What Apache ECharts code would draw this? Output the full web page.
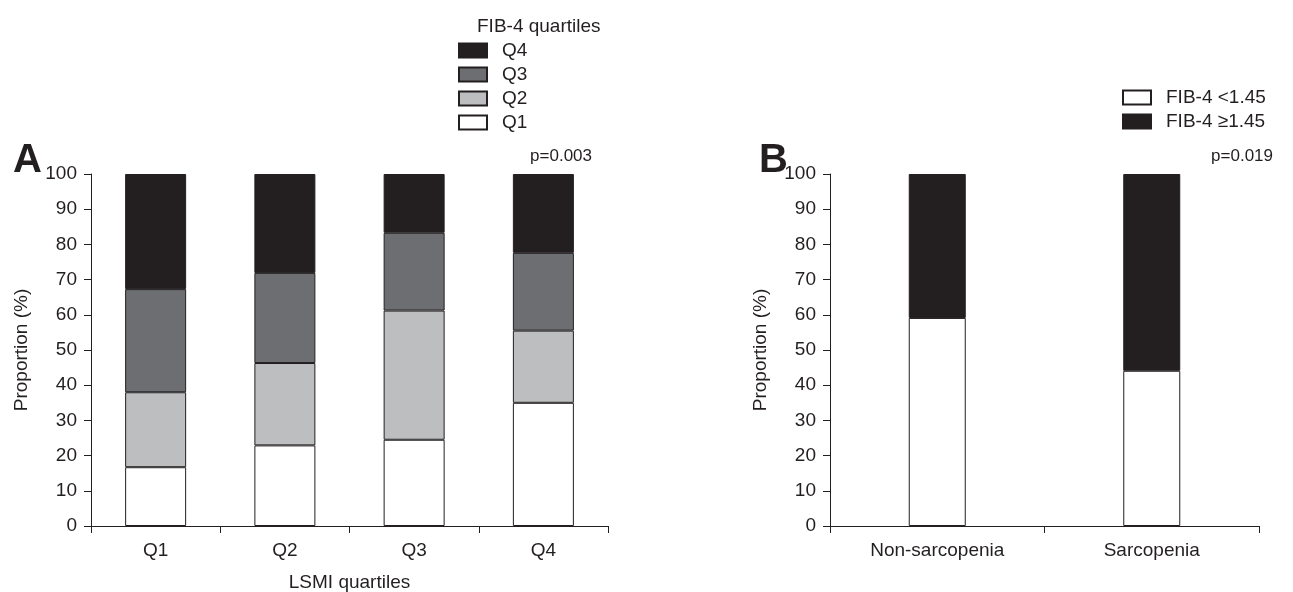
<!DOCTYPE html>
<html>
<head>
<meta charset="utf-8">
<script src="https://cdn.jsdelivr.net/npm/echarts@6/dist/echarts.min.js"></script>
<style>
html,body{margin:0;padding:0;background:#fff;}
#chart{width:1293px;height:592px;}
</style>
</head>
<body>
<div id="chart"></div>
<script>
// Panel A data: FIB-4 quartile distribution within LSMI quartiles (%)
const lsmiCategories = ['Q1', 'Q2', 'Q3', 'Q4'];
const fibQ1 = [16.7, 22.9, 24.5, 35.0];
const fibQ2 = [21.3, 23.4, 36.7, 20.5];
const fibQ3 = [29.3, 25.6, 22.1, 22.1];
const fibQ4 = [32.7, 28.1, 16.7, 22.4];
// Panel B data
const sarcCategories = ['Non-sarcopenia', 'Sarcopenia'];
const fibLow = [59.1, 44.1];
const fibHigh = [40.9, 55.9];
// Axis ticks
const yMin = 0, yMax = 100, yStep = 10;

const FONT = "'Liberation Sans', Arial, sans-serif";
const INK = '#231f20';
const FS = 19;

const chart = echarts.init(document.getElementById('chart'), null, {renderer: 'canvas'});

function yAxis(gridIndex) {
  return {
    type: 'value', gridIndex, min: yMin, max: yMax, interval: yStep,
    name: 'Proportion (%)', nameLocation: 'middle', nameGap: 60,
    nameTextStyle: {fontFamily: FONT, fontSize: FS, color: INK},
    axisLine: {show: true, lineStyle: {color: INK, width: 1}},
    axisTick: {show: true, length: 7, lineStyle: {color: INK, width: 1}},
    axisLabel: {fontFamily: FONT, fontSize: FS, color: INK, margin: 14},
    splitLine: {show: false}
  };
}
function xAxis(gridIndex, data, name) {
  return {
    type: 'category', gridIndex, data,
    name: name || '', nameLocation: 'middle', nameGap: 47,
    nameTextStyle: {fontFamily: FONT, fontSize: FS, color: INK},
    axisLine: {show: true, lineStyle: {color: INK, width: 1}},
    axisTick: {show: true, length: 7, alignWithLabel: false, lineStyle: {color: INK, width: 1}},
    axisLabel: {fontFamily: FONT, fontSize: FS, color: INK, margin: 15},
    splitLine: {show: false}
  };
}
function barSeries(name, data, color, xi, width, stack) {
  return {
    name, type: 'bar', stack, data, xAxisIndex: xi, yAxisIndex: xi,
    barWidth: width,
    itemStyle: {color, borderColor: INK, borderWidth: 1},
    emphasis: {disabled: true},
    animation: false
  };
}

const option = {
  animation: false,
  backgroundColor: '#ffffff',
  textStyle: {fontFamily: FONT, color: INK},
  grid: [
    {left: 91, top: 174, width: 517, height: 352, containLabel: false, outerBoundsMode: 'none'},
    {left: 830, top: 174, width: 429, height: 352, containLabel: false, outerBoundsMode: 'none'}
  ],
  xAxis: [xAxis(0, lsmiCategories, 'LSMI quartiles'), xAxis(1, sarcCategories)],
  yAxis: [yAxis(0), yAxis(1)],
  title: [
    {text: 'A', left: 8, top: 136, textStyle: {fontFamily: FONT, fontSize: 40, fontWeight: 'bold', color: INK}},
    {text: 'B', left: 754, top: 136, textStyle: {fontFamily: FONT, fontSize: 40, fontWeight: 'bold', color: INK}},
    {text: 'p=0.003', right: 1293 - 597, top: 143, textStyle: {fontFamily: FONT, fontSize: 17, fontWeight: 'normal', color: INK}},
    {text: 'p=0.019', right: 1293 - 1278, top: 143, textStyle: {fontFamily: FONT, fontSize: 17, fontWeight: 'normal', color: INK}},
    {text: 'FIB-4 quartiles', left: 472, top: 12, textStyle: {fontFamily: FONT, fontSize: FS, fontWeight: 'normal', color: INK}}
  ],
  legend: [
    {
      data: ['Q4', 'Q3', 'Q2', 'Q1'], orient: 'vertical', left: 458, top: 41, padding: 0,
      icon: 'rect', itemWidth: 28, itemHeight: 14, itemGap: 5,
      textStyle: {fontFamily: FONT, fontSize: FS, color: INK, padding: [0, 0, 0, 10]},
      selectedMode: false
    },
    {
      data: ['FIB-4 <1.45', 'FIB-4 ≥1.45'], orient: 'vertical', left: 1122, top: 88, padding: 0,
      icon: 'rect', itemWidth: 28, itemHeight: 14, itemGap: 5,
      textStyle: {fontFamily: FONT, fontSize: FS, color: INK, padding: [0, 0, 0, 10]},
      selectedMode: false
    }
  ],
  series: [
    barSeries('Q1', fibQ1, '#ffffff', 0, 61, 'a'),
    barSeries('Q2', fibQ2, '#bcbec0', 0, 61, 'a'),
    barSeries('Q3', fibQ3, '#6d6e71', 0, 61, 'a'),
    barSeries('Q4', fibQ4, '#231f20', 0, 61, 'a'),
    barSeries('FIB-4 <1.45', fibLow, '#ffffff', 1, 57, 'b'),
    barSeries('FIB-4 ≥1.45', fibHigh, '#231f20', 1, 57, 'b')
  ]
};
chart.setOption(option);
</script>
</body>
</html>
